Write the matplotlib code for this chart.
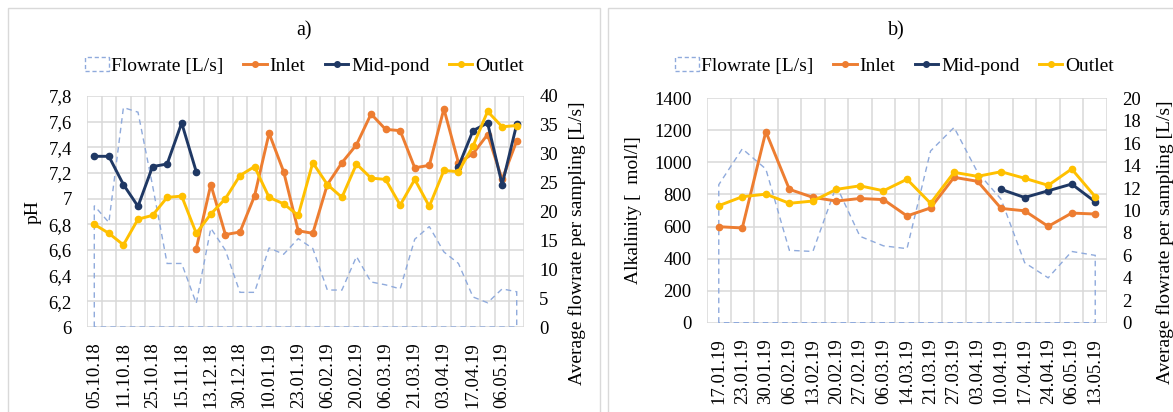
import numpy as np
import matplotlib.pyplot as plt
from matplotlib.patches import Patch, Rectangle
from matplotlib.lines import Line2D
from matplotlib.ticker import FuncFormatter

plt.rcParams['font.family'] = ['Liberation Serif', 'DejaVu Serif']

nan = np.nan

# ---- panel a) pH ----
labels_a = ["05.10.18", "11.10.18", "25.10.18", "15.11.18", "13.12.18", "30.12.18",
            "10.01.19", "23.01.19", "06.02.19", "20.02.19", "06.03.19", "21.03.19",
            "03.04.19", "17.04.19", "06.05.19"]
n_a = 30  # sampling dates, every second one labelled

flow_a = [21.0, 18.1, 38.0, 37.2, 24.5, 11.0, 11.0, 4.1, 17.1, 13.3,
          6.0, 6.0, 13.7, 12.6, 15.3, 13.6, 6.4, 6.4, 12.2, 7.8,
          7.3, 6.6, 15.2, 17.4, 13.0, 11.0, 5.2, 4.2, 6.6, 6.1]
inlet_a = [nan, nan, nan, nan, nan, nan, nan, 6.61, 7.11, 6.72,
           6.74, 7.02, 7.51, 7.21, 6.75, 6.73, 7.11, 7.28, 7.42, 7.66,
           7.54, 7.53, 7.24, 7.26, 7.70, 7.28, 7.35, 7.50, 7.15, 7.45]
mid_a = [7.33, 7.33, 7.11, 6.94, 7.25, 7.27, 7.59, 7.21, nan, nan,
         nan, nan, nan, nan, nan, nan, nan, nan, nan, nan,
         nan, nan, nan, nan, nan, 7.25, 7.53, 7.59, 7.11, 7.58]
outlet_a = [6.80, 6.73, 6.64, 6.84, 6.87, 7.01, 7.02, 6.73, 6.88, 7.00,
            7.18, 7.25, 7.01, 6.96, 6.87, 7.28, 7.11, 7.01, 7.27, 7.16,
            7.15, 6.95, 7.15, 6.94, 7.22, 7.21, 7.41, 7.68, 7.56, 7.57]

# ---- panel b) alkalinity ----
labels_b = ["17.01.19", "23.01.19", "30.01.19", "06.02.19", "13.02.19", "20.02.19",
            "27.02.19", "06.03.19", "14.03.19", "21.03.19", "27.03.19", "03.04.19",
            "10.04.19", "17.04.19", "24.04.19", "06.05.19", "13.05.19"]
flow_b = [12.3, 15.5, 13.7, 6.45, 6.35, 12.2, 7.7, 6.85, 6.6, 15.3,
          17.4, 13.4, 11.0, 5.35, 4.0, 6.35, 6.0]
inlet_b = [599, 591, 1192, 832, 782, 759, 775, 768, 666, 716,
           907, 882, 713, 698, 601, 684, 678]
mid_b = [nan, nan, nan, nan, nan, nan, nan, nan, nan, nan,
         nan, nan, 832, 781, 823, 865, 754]
outlet_b = [730, 786, 802, 745, 759, 832, 854, 823, 895, 745,
            938, 913, 942, 901, 857, 959, 786]

C_FLOW = '#8FAADC'
C_IN = '#ED7D31'
C_MID = '#1F3864'
C_OUT = '#FFC000'
GRID = '#D9D9D9'
FS = 13.5


def draw_panel(rect, flow, inlet, mid, outlet, labels, label_step,
               ylim, ystep, y2lim, y2step, ylabel, title, title_x,
               ylab_x, y2lab_x, y2lab_y, leg_y, leg_x, fmt):
    ax = fig.add_axes(rect)
    ax2 = ax.twinx()
    n = len(flow)
    x = np.arange(n)

    ax.set_xlim(-0.5, n - 0.5)
    ax.set_ylim(*ylim)
    ax2.set_ylim(*y2lim)
    ax.set_yticks(np.arange(ylim[0], ylim[1] + ystep / 2, ystep))
    ax2.set_yticks(np.arange(y2lim[0], y2lim[1] + y2step / 2, y2step))
    ax.yaxis.set_major_formatter(FuncFormatter(fmt))
    ax2.yaxis.set_major_formatter(FuncFormatter(lambda v, p: f"{v:g}"))

    ax.set_xticks(x[::label_step])
    ax.set_xticklabels(labels, rotation=90)
    ax.set_xticks(np.arange(-0.5, n, 1), minor=True)
    ax.set_axisbelow(True)
    ax.grid(which='minor', axis='x', color=GRID, lw=1.1)
    ax.grid(which='major', axis='y', color=GRID, lw=1.1)
    for a in (ax, ax2):
        a.tick_params(which='both', length=0, labelsize=FS, pad=11)
        for s in a.spines.values():
            s.set_visible(False)

    # flowrate area outline (dashed), drawn in the right-axis scale
    px = np.concatenate([[x[0]], x, [x[-1]]])
    py = np.concatenate([[0], flow, [0]])
    ax.fill(px, py, fill=False, edgecolor=C_FLOW, ls=(0, (4, 3)), lw=1.0,
            transform=ax2.transData, zorder=1)

    kw = dict(lw=2.1, marker='o', ms=4.5, zorder=3)
    ax.plot(x, inlet, color=C_IN, **kw)
    ax.plot(x, mid, color=C_MID, **kw)
    ax.plot(x, outlet, color=C_OUT, **kw)

    ax.set_ylabel(ylabel, fontsize=FS + 0.5)
    ax.yaxis.set_label_coords(ylab_x, 0.5)
    ax2.set_ylabel("Average flowrate per sampling [L/s]", fontsize=FS + 0.5,
                   rotation=90)
    ax2.yaxis.set_label_coords(y2lab_x, y2lab_y)

    handles = [Patch(facecolor='none', edgecolor=C_FLOW, ls=(0, (3, 2)), lw=1.0),
               Line2D([], [], color=C_IN, lw=2.1, marker='o', ms=4),
               Line2D([], [], color=C_MID, lw=2.1, marker='o', ms=4),
               Line2D([], [], color=C_OUT, lw=2.1, marker='o', ms=4)]
    ax.legend(handles, ["Flowrate [L/s]", "Inlet", "Mid-pond", "Outlet"],
              loc='center', bbox_to_anchor=(leg_x, leg_y), ncol=4,
              frameon=False, fontsize=FS + 0.5, handlelength=1.2,
              handletextpad=0.15, columnspacing=1.0, borderaxespad=0)

    fig.text(title_x, 0.925, title, ha='center', va='center', fontsize=FS + 1)
    return ax


fig = plt.figure(figsize=(11.73, 4.12), dpi=100)

# chart frames
fig.patches.append(Rectangle((8 / 1173, -0.05), 592 / 1173, 1 - 8 / 412 + 0.05,
                             transform=fig.transFigure, fill=False,
                             edgecolor=GRID, lw=1.0))
fig.patches.append(Rectangle((608 / 1173, -0.05), 0.5, 1 - 8 / 412 + 0.05,
                             transform=fig.transFigure, fill=False,
                             edgecolor=GRID, lw=1.0))

draw_panel([87 / 1173, 85 / 412, 437 / 1173, 231 / 412],
           flow_a, inlet_a, mid_a, outlet_a, labels_a, 2,
           (6, 7.8), 0.2, (0, 40), 5, "pH", "a)", 304 / 1173,
           -0.103, 1.101, 0.364, 1.13, 0.498,
           lambda v, p: f"{round(v, 1):g}".replace('.', ','))

draw_panel([707 / 1173, 89.3 / 412, 400 / 1173, 224.4 / 412],
           flow_b, inlet_b, mid_b, outlet_b, labels_b, 1,
           (0, 1400), 200, (0, 20), 2, "Alkalinity [  mol/l]", "b)", 896 / 1173,
           -0.163, 1.124, 0.36, 1.144, 0.469,
           lambda v, p: f"{v:g}")

fig.savefig("out.png", dpi=100, facecolor='white')
